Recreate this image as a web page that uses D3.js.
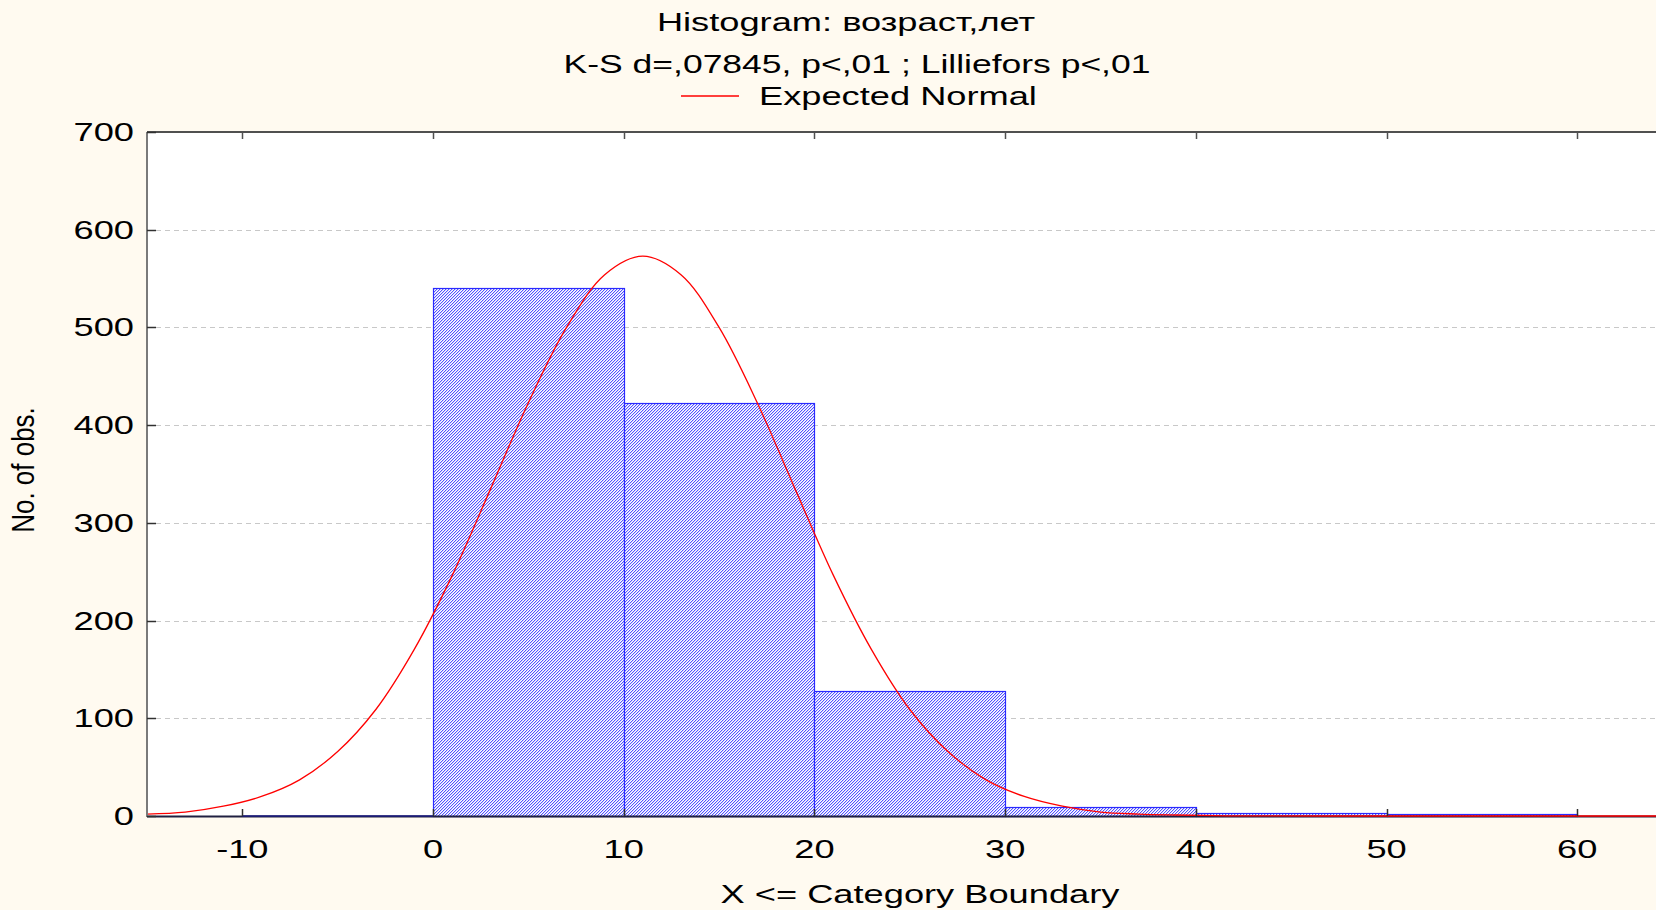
<!DOCTYPE html>
<html>
<head>
<meta charset="utf-8">
<script src="https://cdn.jsdelivr.net/npm/d3@7"></script>
<style>
  body { margin: 0; background: #fffaf0; }
  svg { display: block; }
  text { font-family: "Liberation Sans", Arial, sans-serif; fill: #000; }
</style>
</head>
<body>
<svg id="chart" width="1656" height="910"></svg>
<script>
// histogram bins (category boundaries) and counts
var binEdges = [-10, 0, 10, 20, 30, 40, 50, 60];
var counts = [0, 540, 423, 128, 9, 3, 2];

// expected normal curve
var normalX = [-15, -13, -11, -9, -7, -5, -3, -1, 1, 3, 5, 7, 9, 11, 13, 15, 17, 19, 21, 23, 25, 27, 29, 31, 33, 35, 37, 39, 41, 43, 47, 55, 65];
var normalY = [2, 4, 10, 20, 37, 66, 109, 170, 246, 334, 423, 500, 554, 573, 554, 500, 423, 334, 246, 170, 109, 66, 37, 20, 10, 4, 2, 1, 0.3, 0.1, 0, 0, 0];

var xTicks = [-10, 0, 10, 20, 30, 40, 50, 60];
var yTicks = [0, 100, 200, 300, 400, 500, 600, 700];

var titleText = "Histogram: возраст,лет";
var subtitleText = "K-S d=,07845, p<,01 ; Lilliefors p<,01";
var legendText = "Expected Normal";
var xLabel = "X <= Category Boundary";
var yLabel = "No. of obs.";

var svg = d3.select("#chart");
var stretch = 1.45; // text in the source looks horizontally stretched

var plotLeft = 147, plotTop = 132, plotBottom = 816, plotRight = 1656;
var x = d3.scaleLinear().domain([-15, 65]).range([plotLeft, plotLeft + 80 * 19.07]);
var y = d3.scaleLinear().domain([0, 700]).range([plotBottom, plotTop]);

function stretchedText(px, py, str, size, anchor, sx){
  var g = svg.append("g")
    .attr("transform", "translate(" + px + "," + py + ") scale(" + (sx || stretch) + ",1)");
  g.append("text")
    .attr("text-anchor", anchor || "middle")
    .attr("font-size", size)
    .text(str);
  return g;
}

// plot area
svg.append("rect")
  .attr("x", plotLeft).attr("y", plotTop)
  .attr("width", plotRight - plotLeft).attr("height", plotBottom - plotTop)
  .attr("fill", "#fff");

// dashed grid
svg.append("g").selectAll("line")
  .data(yTicks.filter(function(d){ return d > 0 && d < 700; }))
  .enter().append("line")
  .attr("x1", plotLeft).attr("x2", plotRight)
  .attr("y1", function(d){ return Math.round(y(d)) + 0.5; })
  .attr("y2", function(d){ return Math.round(y(d)) + 0.5; })
  .attr("stroke", "#c8c8c8")
  .attr("stroke-dasharray", "5,4");

// hatch pattern for bars (pixel diagonal, "/")
var defs = svg.append("defs");
var pat = defs.append("pattern")
  .attr("id", "hatch")
  .attr("patternUnits", "userSpaceOnUse")
  .attr("width", 3).attr("height", 3);
pat.append("rect").attr("width", 3).attr("height", 3).attr("fill", "#ffffff");
[[0, 2], [1, 1], [2, 0]].forEach(function(p){
  pat.append("rect").attr("x", p[0]).attr("y", p[1])
    .attr("width", 1).attr("height", 1)
    .attr("shape-rendering", "crispEdges")
    .attr("fill", "#5252ff");
});
[[1, 2], [2, 1], [0, 0]].forEach(function(p){
  pat.append("rect").attr("x", p[0]).attr("y", p[1])
    .attr("width", 1).attr("height", 1)
    .attr("shape-rendering", "crispEdges")
    .attr("fill", "#d0d0ff");
});

defs.append("clipPath").attr("id", "plotclip")
  .append("rect").attr("x", plotLeft).attr("y", plotTop - 2)
  .attr("width", plotRight - plotLeft).attr("height", plotBottom - plotTop + 4);

// bars
var bins = counts.map(function(c, i){
  return { x0: binEdges[i], x1: binEdges[i + 1], n: c };
});
svg.append("g").selectAll("rect")
  .data(bins.filter(function(d){ return d.n > 0; }))
  .enter().append("rect")
  .attr("x", function(d){ return Math.round(x(d.x0)) + 0.5; })
  .attr("y", function(d){ return Math.round(y(d.n)) + 0.5; })
  .attr("width", function(d){ return Math.round(x(d.x1)) - Math.round(x(d.x0)); })
  .attr("height", function(d){ return Math.round(y(0)) - Math.round(y(d.n)); })
  .attr("fill", "url(#hatch)")
  .attr("stroke", "#2a2aff")
  .attr("stroke-width", 1.2);

// bottom axis line
svg.append("line")
  .attr("x1", plotLeft).attr("x2", plotRight)
  .attr("y1", plotBottom + 0.5).attr("y2", plotBottom + 0.5)
  .attr("stroke", "#202040").attr("stroke-width", 2);

// zero-count bars leave a navy line on the baseline
svg.append("g").selectAll("line")
  .data(bins.filter(function(d){ return d.n === 0; }))
  .enter().append("line")
  .attr("x1", function(d){ return x(d.x0); })
  .attr("x2", function(d){ return x(d.x1); })
  .attr("y1", plotBottom).attr("y2", plotBottom)
  .attr("stroke", "#1a1a80").attr("stroke-width", 1.5);

// expected normal
var line = d3.line()
  .curve(d3.curveCatmullRom)
  .x(function(d){ return x(d[0]); })
  .y(function(d){ return y(d[1]); });
svg.append("path")
  .datum(normalX.map(function(v, i){ return [v, normalY[i]]; }))
  .attr("clip-path", "url(#plotclip)")
  .attr("d", line)
  .attr("fill", "none")
  .attr("stroke", "#ff0000")
  .attr("stroke-width", 1.3);

// frame: left and top
svg.append("line")
  .attr("x1", plotLeft).attr("x2", plotLeft)
  .attr("y1", plotTop).attr("y2", plotBottom + 1)
  .attr("stroke", "#7a7a7a").attr("stroke-width", 2);
svg.append("line")
  .attr("x1", plotLeft).attr("x2", plotRight)
  .attr("y1", plotTop).attr("y2", plotTop)
  .attr("stroke", "#505050").attr("stroke-width", 2);

// ticks (inward)
svg.append("g").selectAll("line")
  .data(xTicks).enter().append("line")
  .attr("x1", function(d){ return Math.round(x(d)) + 0.5; })
  .attr("x2", function(d){ return Math.round(x(d)) + 0.5; })
  .attr("y1", plotBottom).attr("y2", plotBottom - 7)
  .attr("stroke", "#303030").attr("stroke-width", 1.5);
svg.append("g").selectAll("line")
  .data(xTicks).enter().append("line")
  .attr("x1", function(d){ return Math.round(x(d)) + 0.5; })
  .attr("x2", function(d){ return Math.round(x(d)) + 0.5; })
  .attr("y1", plotTop).attr("y2", plotTop + 7)
  .attr("stroke", "#505050").attr("stroke-width", 1.5);
svg.append("g").selectAll("line")
  .data(yTicks).enter().append("line")
  .attr("x1", plotLeft).attr("x2", plotLeft + 9)
  .attr("y1", function(d){ return Math.round(y(d)) + 0.5; })
  .attr("y2", function(d){ return Math.round(y(d)) + 0.5; })
  .attr("stroke", "#303030").attr("stroke-width", 1.5);

// tick labels
xTicks.forEach(function(d){
  stretchedText(x(d), 858, d, 25, "middle");
});
yTicks.forEach(function(d){
  stretchedText(134, y(d) + 9, d, 25, "end");
});

// titles and legend
stretchedText(846, 31, titleText, 25, "middle");
stretchedText(857, 73, subtitleText, 25, "middle", 1.42);
svg.append("line")
  .attr("x1", 681).attr("x2", 739)
  .attr("y1", 96).attr("y2", 96)
  .attr("stroke", "#ff0000").attr("stroke-width", 1.3);
stretchedText(759, 105, legendText, 25, "start");

// axis titles
stretchedText(920, 903, xLabel, 25, "middle");
var yl = svg.append("g").attr("transform", "translate(34,470) scale(1.2,1) rotate(-90)");
yl.append("text").attr("text-anchor", "middle").attr("font-size", 26).text(yLabel);
</script>
</body>
</html>
